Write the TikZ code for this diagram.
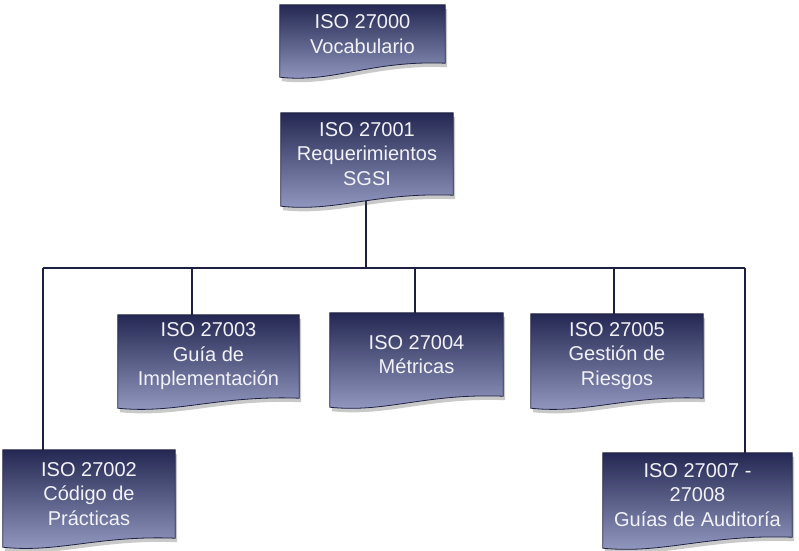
\documentclass[tikz,border=0pt]{standalone}
\usepackage{fontspec}
\setmainfont{Liberation Sans}
\usetikzlibrary{calc,shadows}
\definecolor{boxtop}{RGB}{36,40,82}
\definecolor{boxbot}{RGB}{150,156,196}
\definecolor{boxedge}{RGB}{30,33,66}
\definecolor{linec}{RGB}{28,32,64}
\definecolor{txt}{RGB}{242,242,248}
\pgfdeclarelayer{lines}
\pgfdeclarelayer{shapes}
\pgfsetlayers{lines,shapes,main}
\tikzset{
  docnode/.style={inner sep=0pt, align=center, text=txt,
    font=\fontsize{20}{24.5}\selectfont},
  docfill/.style={top color=boxtop, bottom color=boxbot, draw=boxedge, line width=0.8pt,
    drop shadow={opacity=0.3, shadow xshift=2pt, shadow yshift=-4pt, fill=black!70}},
  conn/.style={draw=linec, line width=2pt}
}
\newcommand\drawdoc[2]{%
  \begin{pgfonlayer}{shapes}
  \path[docfill] (#1.north west) -- (#1.north east) -- (#1.south east)
    .. controls ($(#1.south east)!0.45!(#1.south west)+(0,3)$)
       and ($(#1.south east)!0.68!(#1.south west)+(0,-#2-6)$)
    .. ($(#1.south west)+(0,-#2)$) -- cycle;
  \end{pgfonlayer}}
\begin{document}
\begin{tikzpicture}[x=1pt,y=1pt]
\useasboundingbox (0,0) rectangle (799,-550);
\node[docnode, minimum width=165pt, minimum height=58pt] (A) at (362.5,-34) {ISO 27000\\Vocabulario};
\node[docnode, minimum width=172pt, minimum height=82pt] (B) at (367,-154) {ISO 27001\\Requerimientos\\SGSI};
\node[docnode, minimum width=172pt, minimum height=88pt] (C) at (89,-494) {ISO 27002\\Código de\\Prácticas};
\node[docnode, minimum width=181pt, minimum height=83pt] (D) at (208.5,-356.5) {ISO 27003\\Guía de\\Implementación};
\node[docnode, minimum width=173pt, minimum height=83pt] (E) at (416.5,-354.5) {ISO 27004\\Métricas};
\node[docnode, minimum width=172pt, minimum height=84pt] (F) at (617,-356) {ISO 27005\\Gestión de\\Riesgos};
\node[docnode, minimum width=189pt, minimum height=84pt] (G) at (697.5,-495) {ISO 27007 -\\27008\\Guías de Auditoría};
\drawdoc{A}{14}
\drawdoc{B}{11}
\drawdoc{C}{9}
\drawdoc{D}{10}
\drawdoc{E}{11}
\drawdoc{F}{10}
\drawdoc{G}{11}
\coordinate (bus) at (366,-268);
\coordinate (jC) at (43,-268);
\coordinate (jD) at (192,-268);
\coordinate (jE) at (415,-268);
\coordinate (jF) at (614,-268);
\coordinate (jG) at (745,-268);
\begin{pgfonlayer}{lines}
\draw[conn] (B.center -| bus) -- (bus);
\draw[conn] (jC) -- (jG);
\draw[conn] (jC) -- (jC |- C.center);
\draw[conn] (jD) -- (jD |- D.center);
\draw[conn] (jE) -- (jE |- E.center);
\draw[conn] (jF) -- (jF |- F.center);
\draw[conn] (jG) -- (jG |- G.center);
\end{pgfonlayer}
\end{tikzpicture}
\end{document}
